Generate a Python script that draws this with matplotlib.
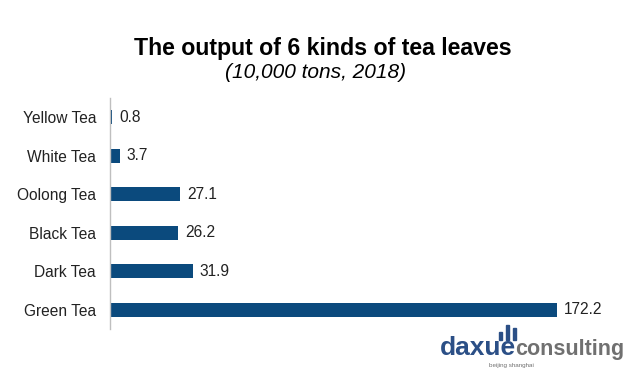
import matplotlib.pyplot as plt

plt.rcParams["font.family"] = ["Liberation Sans", "DejaVu Sans"]

# ----------------- DATA -----------------
CATEGORIES = ["Yellow Tea", "White Tea", "Oolong Tea", "Black Tea", "Dark Tea", "Green Tea"]
VALUES = [0.8, 3.7, 27.1, 26.2, 31.9, 172.2]
VALUE_LABELS = ["0.8", "3.7", "27.1", "26.2", "31.9", "172.2"]

BAR_COLOR = "#0B4A7D"
AXIS_COLOR = "#BFBFBF"

# ----------------- PLOT -----------------
fig = plt.figure(figsize=(6.41, 3.75), dpi=100)
ax = fig.add_axes([110 / 641, 1 - 329 / 375, 493 / 641, 231 / 375])

ypos = list(range(len(CATEGORIES)))
ax.barh(ypos, VALUES, height=0.36, color=BAR_COLOR)
ax.set_ylim(len(CATEGORIES) - 0.5, -0.5)
ax.set_xlim(0, 190)

for y, v, lab in zip(ypos, VALUES, VALUE_LABELS):
    ax.annotate(lab, (v, y), xytext=(5, 0), textcoords="offset points",
                va="center", ha="left", fontsize=11.2, color="#222222")

ax.set_yticks(ypos)
ax.set_yticklabels(CATEGORIES, fontsize=11.2, color="#222222")
ax.tick_params(axis="y", length=0, pad=10)
ax.set_xticks([])
for side in ["top", "right", "bottom"]:
    ax.spines[side].set_visible(False)
ax.spines["left"].set_color(AXIS_COLOR)
ax.spines["left"].set_linewidth(1)

fig.text(323 / 641, 1 - 48 / 375, "The output of 6 kinds of tea leaves",
         ha="center", va="center", fontsize=16.7, fontweight="bold")
fig.text(316 / 641, 1 - 73 / 375, "(10,000 tons, 2018)",
         ha="center", va="center", fontsize=15, style="italic")

# logo
fig.text(440 / 641, 1 - 355 / 375, "daxue", ha="left", va="baseline",
         fontsize=19, fontweight="bold", color="#2B4F86")
fig.text(515 / 641, 1 - 355 / 375, "consulting", ha="left", va="baseline",
         fontsize=15.5, fontweight="bold", color="#707070")
fig.text(511 / 641, 1 - 366 / 375, "beijing shanghai", ha="center", va="center",
         fontsize=4.5, color="#707070")
for x0, h in [(499, 8), (506, 15), (513, 12)]:
    fig.patches.append(plt.Rectangle((x0 / 641, 1 - 340 / 375), 3 / 641, h / 375,
                                     transform=fig.transFigure, color="#2B4F86"))

fig.savefig("out.png", dpi=100)
